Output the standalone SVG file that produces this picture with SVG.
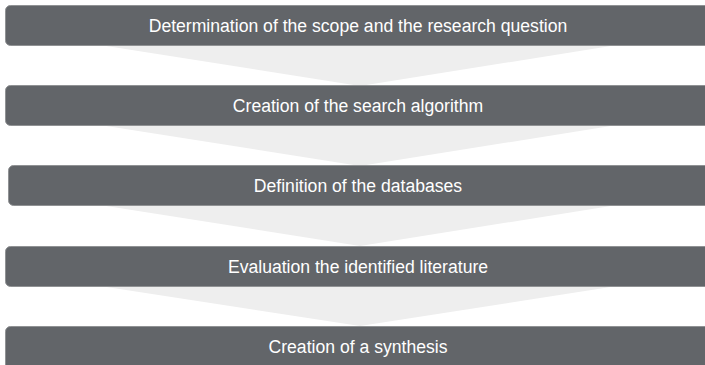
<svg xmlns="http://www.w3.org/2000/svg" width="705" height="365" viewBox="0 0 705 365">
<style>
.box{fill:#626569;stroke:#909294;stroke-width:1}
.tri{fill:#eeeeee}
.lbl{font-family:"Liberation Sans",Arial,sans-serif;font-size:17.6px;fill:#ffffff;text-anchor:middle}
</style>
<rect width="705" height="365" fill="#ffffff"/>
<g id="connectors">
<polygon class="tri" points="100,45 617,45 360,86"/>
<polygon class="tri" points="100,125 617,125 360,166"/>
<polygon class="tri" points="100,205 617,205 360,246"/>
<polygon class="tri" points="100,286 617,286 360,326"/>
</g>
<g id="n1"><rect class="box" x="5.5" y="5.5" width="710" height="40" rx="5"/><text class="lbl" x="358" y="32">Determination of the scope and the research question</text></g>
<g id="n2"><rect class="box" x="5.5" y="85.5" width="710" height="40" rx="5"/><text class="lbl" x="358" y="112">Creation of the search algorithm</text></g>
<g id="n3"><rect class="box" x="8.5" y="165.5" width="707" height="40" rx="5"/><text class="lbl" x="358" y="192">Definition of the databases</text></g>
<g id="n4"><rect class="box" x="5.5" y="246.5" width="710" height="40" rx="5"/><text class="lbl" x="358" y="273">Evaluation the identified literature</text></g>
<g id="n5"><rect class="box" x="5.5" y="326.5" width="710" height="45" rx="5"/><text class="lbl" x="358" y="353">Creation of a synthesis</text></g>
</svg>
